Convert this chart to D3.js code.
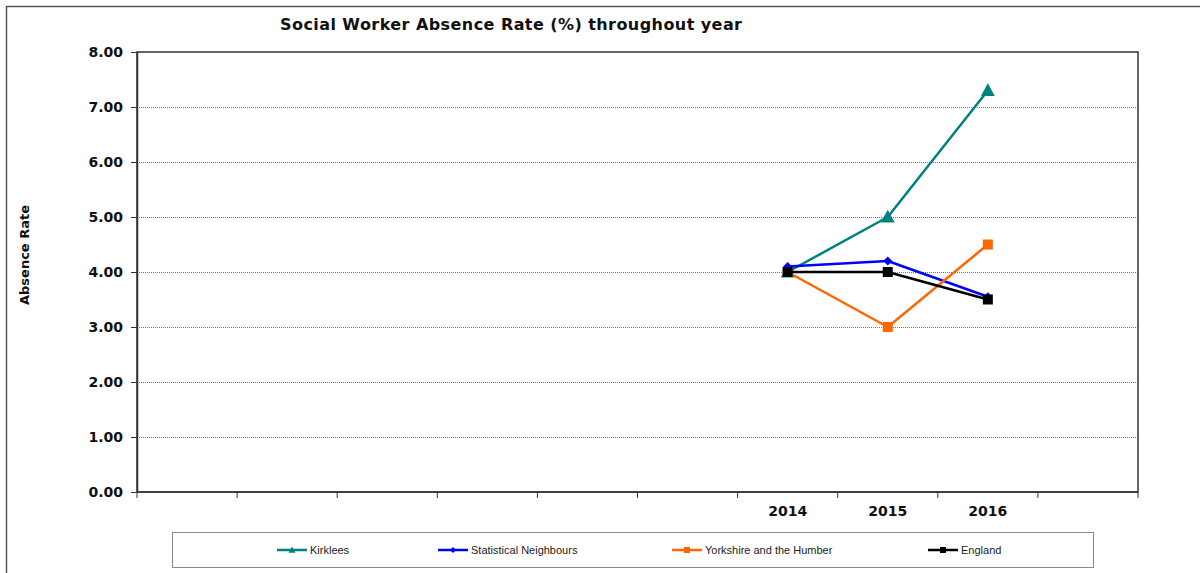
<!DOCTYPE html>
<html>
<head>
<meta charset="utf-8">
<script src="https://cdn.jsdelivr.net/npm/d3@7"></script>
<style>
  html, body { margin: 0; padding: 0; background: #fff; }
  svg { display: block; }
</style>
</head>
<body>
<div id="chart"></div>
<script>
// Category slots along the x axis (only the last years carry data)
const categories = ["c1", "c2", "c3", "c4", "c5", "c6", "2014", "2015", "2016", "c10"];
const categoryLabels = ["", "", "", "", "", "", "2014", "2015", "2016", ""];
const years = ["2014", "2015", "2016"];

// Absence rate (%) per series
const kirklees = [4.0, 5.0, 7.3];
const statNeighbours = [4.1, 4.2, 3.55];
const yorkshire = [4.0, 3.0, 4.5];
const england = [4.0, 4.0, 3.5];

const seriesNames = ["Kirklees", "Statistical Neighbours", "Yorkshire and the Humber", "England"];
const yTicks = [0, 1, 2, 3, 4, 5, 6, 7, 8];

const series = [
  { name: seriesNames[0], values: kirklees, color: "#008080", marker: "triangle" },
  { name: seriesNames[1], values: statNeighbours, color: "#0000FF", marker: "diamond" },
  { name: seriesNames[2], values: yorkshire, color: "#FF6600", marker: "square" },
  { name: seriesNames[3], values: england, color: "#000000", marker: "square" }
];

const W = 1200, H = 573;
const plot = { left: 137, top: 52, right: 1138, bottom: 492 };

const svg = d3.select("#chart").append("svg")
  .attr("width", W).attr("height", H);

// outer chart frame (runs off the right and bottom edges)
svg.append("rect")
  .attr("x", 6.5).attr("y", 6.5)
  .attr("width", W + 20).attr("height", H + 20)
  .attr("fill", "none").attr("stroke", "#555").attr("stroke-width", 1.5);

const x = d3.scaleBand().domain(categories)
  .range([plot.left, plot.right]).paddingInner(0).paddingOuter(0);
const y = d3.scaleLinear().domain([0, 8]).range([plot.bottom, plot.top]);

// gridlines
svg.append("g")
  .selectAll("line")
  .data(yTicks.filter(d => d > 0 && d < 8))
  .join("line")
  .attr("x1", plot.left).attr("x2", plot.right)
  .attr("y1", d => Math.round(y(d)) + 0.5).attr("y2", d => Math.round(y(d)) + 0.5)
  .attr("stroke", "#777").attr("stroke-width", 1)
  .attr("stroke-dasharray", "1,1");

// plot frame
svg.append("rect")
  .attr("x", plot.left).attr("y", plot.top)
  .attr("width", plot.right - plot.left).attr("height", plot.bottom - plot.top)
  .attr("fill", "none").attr("stroke", "#333").attr("stroke-width", 1.5);

// y axis
const yAxis = d3.axisLeft(y).tickValues(yTicks).tickFormat(d3.format(".2f"))
  .tickSizeInner(6).tickSizeOuter(0).tickPadding(8);
const gy = svg.append("g").attr("transform", `translate(${plot.left},0)`).call(yAxis);
gy.select(".domain").attr("stroke", "#333").attr("stroke-width", 1.5);
gy.selectAll(".tick line").attr("stroke", "#333");
gy.selectAll(".tick text")
  .attr("font-family", "DejaVu Sans, Verdana, sans-serif")
  .attr("font-weight", "bold").attr("font-size", 14).attr("fill", "#111");

// x axis: ticks on category boundaries, labels at band centres
const xAxisG = svg.append("g").attr("transform", `translate(0,${plot.bottom})`);
xAxisG.append("line")
  .attr("x1", plot.left).attr("x2", plot.right)
  .attr("stroke", "#333").attr("stroke-width", 1.5);
const boundaries = categories.map(c => x(c)).concat([x(categories[categories.length - 1]) + x.bandwidth()]);
xAxisG.selectAll("line.tk").data(boundaries).join("line").attr("class", "tk")
  .attr("x1", d => d).attr("x2", d => d).attr("y1", 0).attr("y2", 6)
  .attr("stroke", "#333").attr("stroke-width", 1);
xAxisG.selectAll("text").data(categories).join("text")
  .attr("x", d => x(d) + x.bandwidth() / 2).attr("y", 24)
  .attr("text-anchor", "middle")
  .attr("font-family", "DejaVu Sans, Verdana, sans-serif")
  .attr("font-weight", "bold").attr("font-size", 14).attr("fill", "#111")
  .text((d, i) => categoryLabels[i]);

// titles
svg.append("text")
  .attr("x", 511).attr("y", 30).attr("text-anchor", "middle")
  .attr("font-family", "DejaVu Sans, Verdana, sans-serif")
  .attr("font-weight", "bold").attr("font-size", 16).attr("fill", "#111")
  .attr("textLength", 462).attr("lengthAdjust", "spacing")
  .text("Social Worker Absence Rate (%) throughout year");

svg.append("text")
  .attr("transform", "translate(29,255) rotate(-90)")
  .attr("text-anchor", "middle")
  .attr("font-family", "DejaVu Sans, Verdana, sans-serif")
  .attr("font-weight", "bold").attr("font-size", 13).attr("fill", "#111")
  .text("Absence Rate");

// marker shapes
function markerPath(type, size) {
  const s = size;
  if (type === "triangle") return `M0,${-s * 0.6}L${s * 0.58},${s * 0.45}L${-s * 0.58},${s * 0.45}Z`;
  if (type === "diamond") return `M0,${-s / 2}L${s / 2},0L0,${s / 2}L${-s / 2},0Z`;
  return `M${-s / 2},${-s / 2}h${s}v${s}h${-s}Z`;
}
const markerSize = { triangle: 12, diamond: 9, square: 10 };

const line = d3.line().x(d => x(d.year) + x.bandwidth() / 2).y(d => y(d.value));

series.forEach(s => {
  const pts = years.map((yr, i) => ({ year: yr, value: s.values[i] }));
  const g = svg.append("g");
  g.append("path").datum(pts).attr("d", line)
    .attr("fill", "none").attr("stroke", s.color).attr("stroke-width", 2.5)
    .attr("stroke-linejoin", "round");
  g.selectAll("path.m").data(pts).join("path").attr("class", "m")
    .attr("transform", d => `translate(${x(d.year) + x.bandwidth() / 2},${y(d.value)})`)
    .attr("d", markerPath(s.marker, markerSize[s.marker]))
    .attr("fill", s.color);
});

// legend
const legend = svg.append("g");
legend.append("rect")
  .attr("x", 172.5).attr("y", 532.5).attr("width", 921).attr("height", 35)
  .attr("fill", "#fff").attr("stroke", "#888").attr("stroke-width", 1);
const legendX = [277, 438, 672, 928];
series.forEach((s, i) => {
  const lx = legendX[i], ly = 550;
  legend.append("line").attr("x1", lx).attr("x2", lx + 30).attr("y1", ly).attr("y2", ly)
    .attr("stroke", s.color).attr("stroke-width", 2.5);
  legend.append("path").attr("transform", `translate(${lx + 15},${ly})`)
    .attr("d", markerPath(s.marker, 6)).attr("fill", s.color);
  legend.append("text").attr("x", lx + 33).attr("y", ly + 4)
    .attr("font-family", "Liberation Sans, Arial, sans-serif")
    .attr("font-size", 11).attr("fill", "#222")
    .text(s.name);
});
</script>
</body>
</html>
